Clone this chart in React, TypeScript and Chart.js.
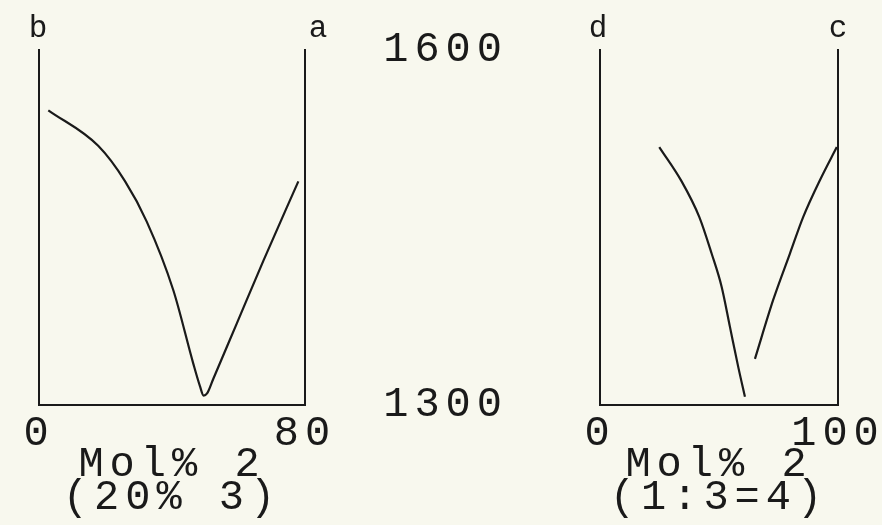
import { useEffect, useRef } from "react";
import { Chart, registerables } from "chart.js";

Chart.register(...registerables);

// Left panel: mol% of 2 in the 20% 3 system (0–80)
const leftX = [2.8, 17.8, 25.9, 32.4, 40.4, 46.4, 48.4, 49.5, 50.6, 52.4, 59.5, 67.5, 78];
const leftY = [1549, 1519, 1489, 1455, 1397, 1335, 1316, 1308, 1310, 1322, 1369, 1422, 1489];

// Right panel: two separate branches in the 1:3=4 system (0–100)
const rightFallX = [24.9, 34.3, 41.7, 46.9, 51.1, 54.6, 58.1, 60.9];
const rightFallY = [1518, 1489, 1459, 1428, 1400, 1366, 1332, 1307];
const rightRiseX = [65.1, 72.8, 79.8, 85.4, 92.4, 99.5];
const rightRiseY = [1339, 1389, 1428, 1459, 1490, 1518];

// Shared vertical range and tick labels
const yRange = [1300, 1600];
const yTicks = [1300, 1600];
const leftXTicks = [0, 80];
const rightXTicks = [0, 100];

// Text
const leftCorners = ["b", "a"];
const rightCorners = ["d", "c"];
const leftTitle = ["Mol% 2", "(20% 3)"];
const rightTitle = ["Mol% 2", "(1:3=4)"];

const INK = "#1a1a1a";
const PAPER = "#f8f8ee";
const MONO = "'Liberation Mono', 'DejaVu Sans Mono', monospace";
const HEIGHT = 525;

const toPoints = (xs: number[], ys: number[]) => xs.map((x, i) => ({ x, y: ys[i] }));

// Letters above the two vertical axes of each panel
const cornerLabels = {
  id: "cornerLabels",
  afterDraw(chart: any, _args: any, opts: any) {
    const { ctx, chartArea } = chart;
    ctx.save();
    ctx.letterSpacing = "0px";
    ctx.font = `31px ${MONO}`;
    ctx.fillStyle = INK;
    ctx.textAlign = "center";
    ctx.textBaseline = "alphabetic";
    const y = chartArea.top - 13;
    ctx.fillText(opts.labels[0], chartArea.left + opts.dx[0], y);
    ctx.fillText(opts.labels[1], chartArea.right + opts.dx[1], y);
    ctx.restore();
  },
};

// Plotter-style wide spacing for axis text
const spacing = {
  id: "spacing",
  beforeDraw(chart: any) {
    chart.ctx.letterSpacing = "6px";
  },
};

type PanelSpec = {
  width: number;
  left: number;
  areaLeft: number;
  areaRight: number;
  xMax: number;
  xTicks: number[];
  title: string[];
  corners: string[];
  cornerDx: number[];
  showY: boolean;
  series: { x: number; y: number }[][];
};

function buildConfig(p: PanelSpec): any {
  const border = { display: true, color: INK, width: 2 };
  const font = { family: MONO, size: 42, lineHeight: 1 };
  return {
    type: "line",
    data: {
      datasets: p.series.map((pts) => ({
        data: pts,
        borderColor: INK,
        borderWidth: 2.2,
        pointRadius: 0,
        cubicInterpolationMode: "monotone",
        fill: false,
      })),
    },
    options: {
      responsive: false,
      animation: false,
      devicePixelRatio: 1,
      events: [],
      layout: { padding: { top: 50, left: 0, right: 0, bottom: 0 } },
      plugins: {
        legend: { display: false },
        tooltip: { enabled: false },
        cornerLabels: { labels: p.corners, dx: p.cornerDx },
      },
      scales: {
        x: {
          type: "linear",
          min: 0,
          max: p.xMax,
          afterBuildTicks: (s: any) => {
            s.ticks = p.xTicks.map((v) => ({ value: v }));
          },
          afterFit: (s: any) => {
            s.height = HEIGHT - 405;
            s.paddingLeft = 0;
            s.paddingRight = 0;
          },
          grid: { display: false, drawTicks: false },
          border,
          ticks: {
            color: INK,
            font,
            padding: 8,
            maxRotation: 0,
            autoSkip: false,
            callback: (v: number) => String(v),
          },
          title: {
            display: true,
            text: p.title,
            color: INK,
            font: { family: MONO, size: 42, lineHeight: 33 / 42 },
            padding: { top: 0, bottom: 11 },
          },
        },
        y: {
          type: "linear",
          position: "left",
          min: yRange[0],
          max: yRange[1],
          afterBuildTicks: (s: any) => {
            s.ticks = yTicks.map((v) => ({ value: v }));
          },
          afterFit: (s: any) => {
            s.width = p.areaLeft - p.left;
            s.paddingTop = 0;
            s.paddingBottom = 0;
          },
          grid: { display: false, drawTicks: false },
          border,
          ticks: {
            display: p.showY,
            color: INK,
            font,
            padding: 92,
            callback: (v: number) => String(v),
          },
        },
        y2: {
          type: "linear",
          position: "right",
          display: true,
          min: yRange[0],
          max: yRange[1],
          afterFit: (s: any) => {
            s.width = p.left + p.width - p.areaRight;
            s.paddingTop = 0;
            s.paddingBottom = 0;
          },
          grid: { display: false, drawTicks: false },
          border,
          ticks: { display: false },
        },
      },
    },
    plugins: [spacing, cornerLabels],
  };
}

function Panel({ spec }: { spec: PanelSpec }) {
  const ref = useRef<HTMLCanvasElement>(null);
  useEffect(() => {
    const chart = new Chart(ref.current as HTMLCanvasElement, buildConfig(spec));
    return () => chart.destroy();
  }, [spec]);
  return (
    <canvas
      ref={ref}
      width={spec.width}
      height={HEIGHT}
      style={{ position: "absolute", left: spec.left, top: 0, width: spec.width, height: HEIGHT }}
    />
  );
}

const leftSpec: PanelSpec = {
  width: 360,
  left: 0,
  areaLeft: 39,
  areaRight: 305,
  xMax: leftXTicks[1],
  xTicks: leftXTicks,
  title: leftTitle,
  corners: leftCorners,
  cornerDx: [-1, 13],
  showY: false,
  series: [toPoints(leftX, leftY)],
};

const rightSpec: PanelSpec = {
  width: 522,
  left: 360,
  areaLeft: 600,
  areaRight: 838,
  xMax: rightXTicks[1],
  xTicks: rightXTicks,
  title: rightTitle,
  corners: rightCorners,
  cornerDx: [-2, 0],
  showY: true,
  series: [toPoints(rightFallX, rightFallY), toPoints(rightRiseX, rightRiseY)],
};

export default function App() {
  return (
    <div
      style={{
        position: "fixed",
        left: 0,
        top: 0,
        width: 882,
        height: HEIGHT,
        background: PAPER,
        overflow: "hidden",
      }}
    >
      <Panel spec={leftSpec} />
      <Panel spec={rightSpec} />
    </div>
  );
}
